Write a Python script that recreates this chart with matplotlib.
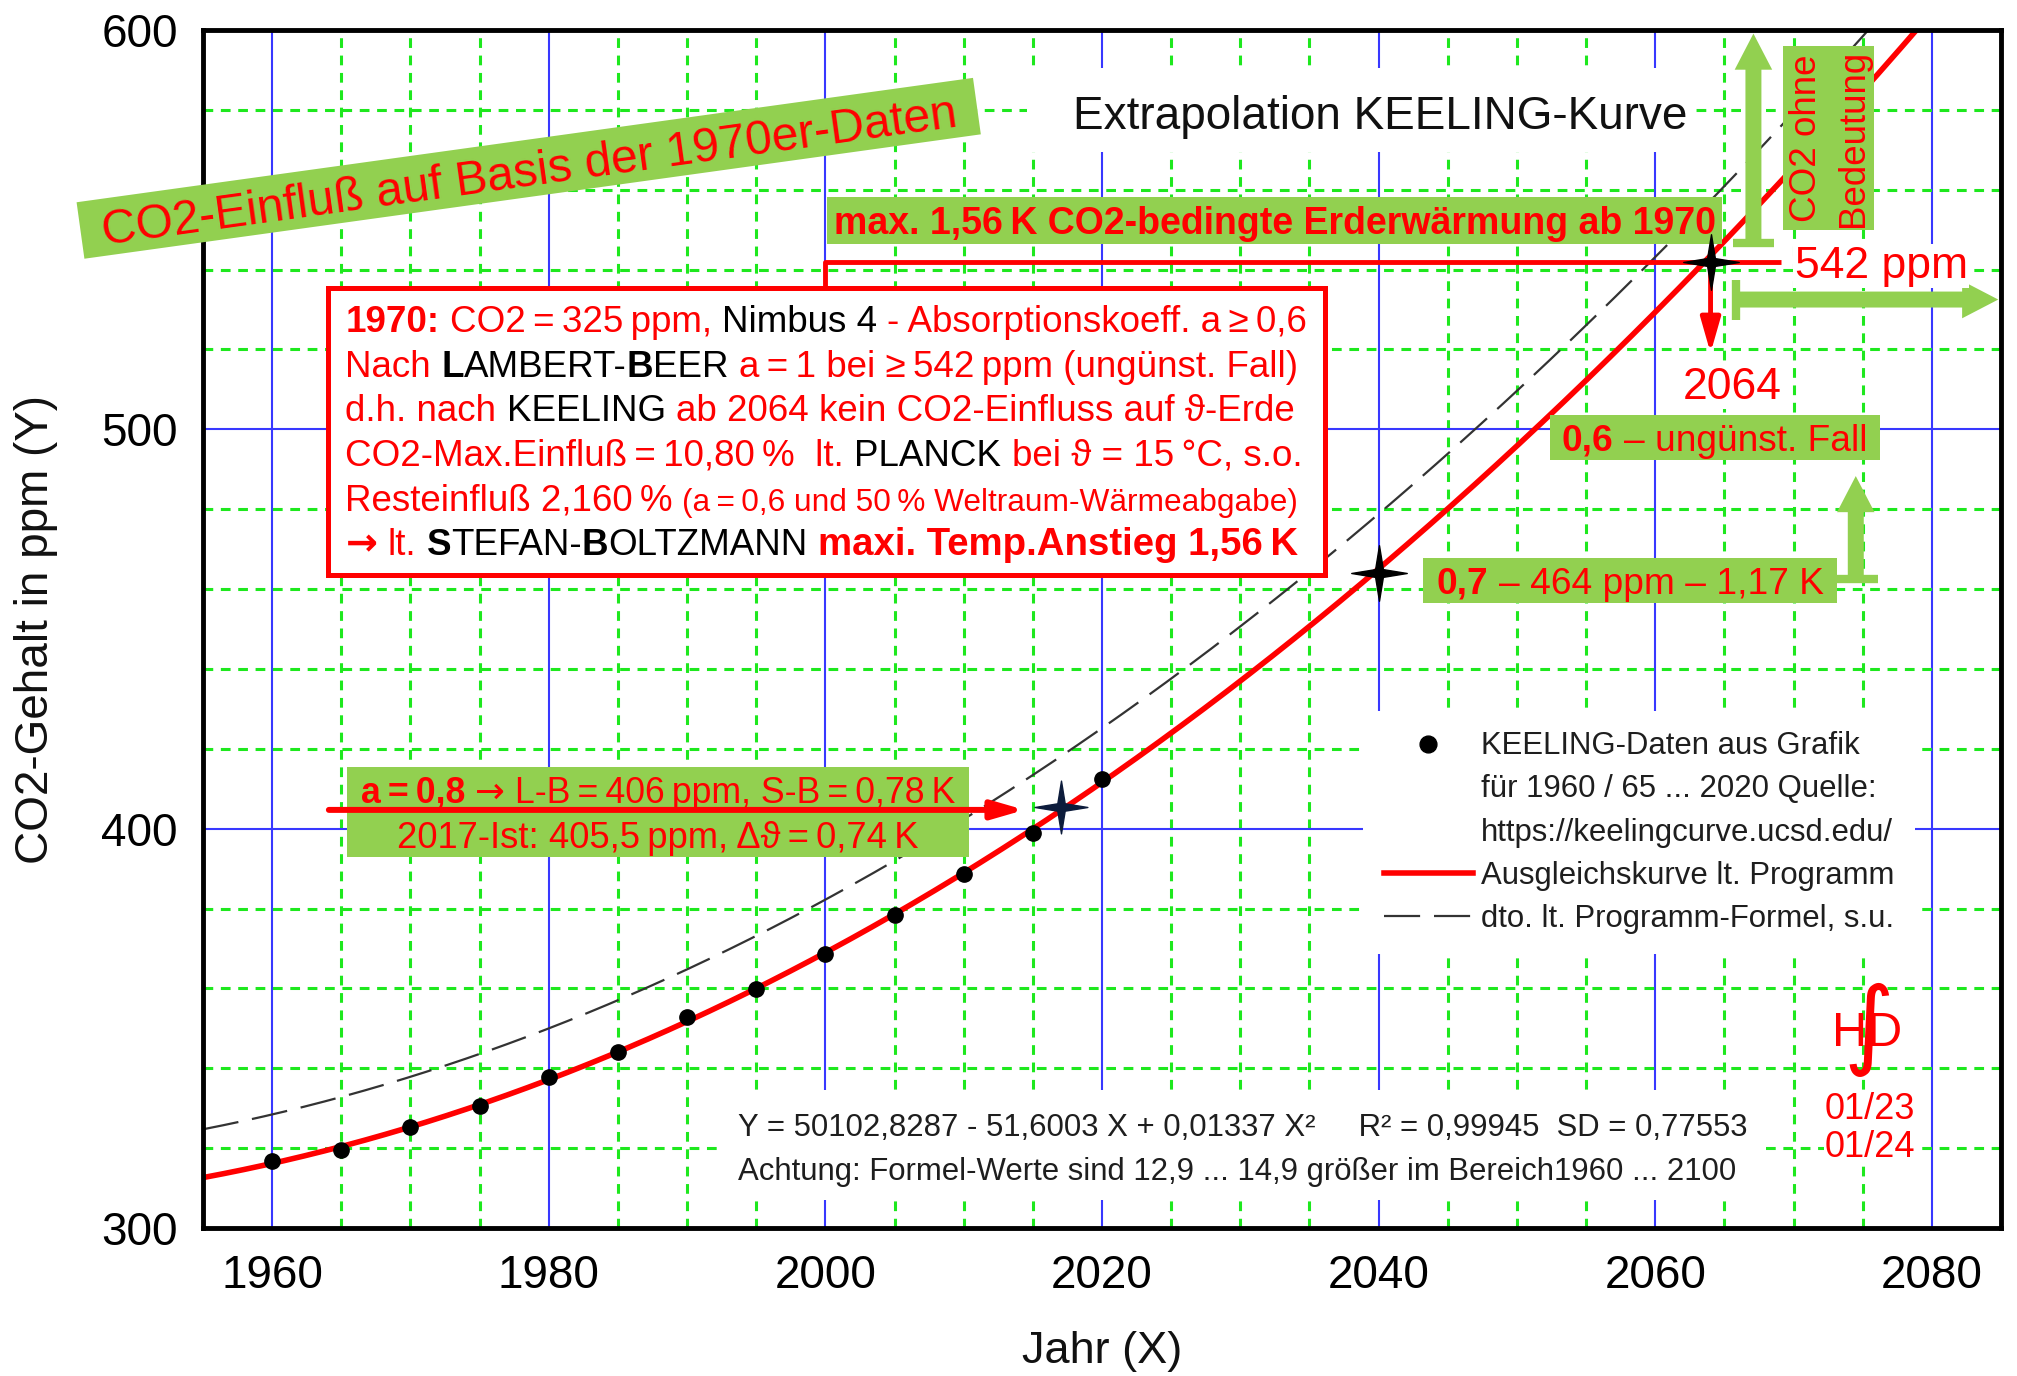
import numpy as np
import matplotlib
matplotlib.use('Agg')
import matplotlib.pyplot as plt
from matplotlib.patches import Rectangle
from matplotlib.path import Path
from matplotlib.lines import Line2D
from matplotlib.transforms import IdentityTransform
from matplotlib.ticker import MultipleLocator
from numpy.polynomial import Polynomial

FAM = ['Liberation Sans', 'DejaVu Sans']
ARROW_FAM = ['DejaVu Sans']
plt.rcParams['font.family'] = FAM
plt.rcParams['lines.scale_dashes'] = False

years = [1960, 1965, 1970, 1975, 1980, 1985, 1990, 1995, 2000, 2005, 2010, 2015, 2020]
keeling_ppm = [316.8, 319.5, 325.2, 330.5, 337.8, 344.0, 352.8, 359.8, 368.7, 378.5, 388.7, 399.0, 412.5]

# programme formula  Y = c0 + c1*X + c2*X^2
formula_coef = [50102.8287, -51.6003, 0.01337]

# marked points: 2017 actual, a = 0.7, a = 1 (unfavourable case)
star_years = [2017, 2040, 2064]
star_ppm = [405.5, 464, 542]

x_ticks = [1960, 1980, 2000, 2020, 2040, 2060, 2080]
y_ticks = [300, 400, 500, 600]

RED = '#ff0000'
GREEN = '#92d050'
BLUE = '#3838ff'
LIME = '#1ee81e'
TXT = '#1e1e1e'
NAVY = '#0d1c3c'

W, H = 2017, 1376
PX = 100 / 72.0
fig = plt.figure(figsize=(W / 100, H / 100), dpi=100, facecolor='white')
ax = fig.add_axes([203 / W, 1 - 1228 / H, 1798 / W, 1198 / H])
ax.set_xlim(1955, 2085)
ax.set_ylim(300, 600)
ax.set_xticks(x_ticks)
ax.set_xticklabels([str(v) for v in x_ticks])
ax.set_yticks(y_ticks)
ax.set_yticklabels([str(v) for v in y_ticks])
ax.xaxis.set_minor_locator(MultipleLocator(5))
ax.yaxis.set_minor_locator(MultipleLocator(20))
ax.set_axisbelow(True)
ax.grid(which='major', color=BLUE, linewidth=1.5)
ax.grid(which='minor', color=LIME, linewidth=2.2, linestyle=(0, (7, 5.5)))
ax.tick_params(which='both', length=0)
ax.tick_params(axis='x', labelsize=33, pad=18.5)
ax.tick_params(axis='y', labelsize=33, pad=18)
for sp in ax.spines.values():
    sp.set_linewidth(3.5)
    sp.set_zorder(10)

# white panels behind title and formula
ax.add_patch(Rectangle((2014.6, 569.5), 47.9, 21.0, facecolor='white', edgecolor='none', zorder=1))
ax.add_patch(Rectangle((1992.3, 307.0), 75.4, 27.6, facecolor='white', edgecolor='none', zorder=1))

# curves
xs = np.linspace(1955, 2085, 800)
fit = Polynomial.fit(years, keeling_ppm, 2)
fit_line, = ax.plot(xs, fit(xs), color=RED, lw=4, zorder=3)
formula_vals = formula_coef[0] + formula_coef[1] * xs + formula_coef[2] * xs ** 2
formula_line, = ax.plot(xs, formula_vals, color='#333333', lw=1.6,
                        linestyle=(0, (26, 10)), zorder=3)
dots, = ax.plot(years, keeling_ppm, 'o', color='black', ms=11, zorder=4)

# text box with the 1970 assumptions
ax.add_patch(Rectangle((1964.05, 463.5), 72.05, 72.0, facecolor='white',
                       edgecolor=RED, lw=3.6, zorder=3.6))
ax.plot([2000, 2000, 2069.1], [535.5, star_ppm[2], star_ppm[2]], color=RED, lw=3.5,
        zorder=3.5, solid_capstyle='butt')

# green label boxes
for (x0, y0, x1, y1) in [(2000.14, 546.4, 2064.83, 558.1),
                         (2052.39, 492.3, 2076.22, 503.7),
                         (2043.21, 456.5, 2073.14, 467.9),
                         (2069.24, 549.8, 2075.82, 596.0),
                         (1965.4, 392.9, 2010.4, 415.5)]:
    ax.add_patch(Rectangle((x0, y0), x1 - x0, y1 - y0, facecolor=GREEN,
                           edgecolor='none', zorder=4.5))


def green_arrow(x0, y0, x1, y1):
    ax.annotate('', xy=(x1, y1), xytext=(x0, y0), zorder=5,
                arrowprops=dict(arrowstyle='simple,head_length=26,head_width=27,tail_width=11.5',
                                mutation_scale=1, facecolor=GREEN, edgecolor='none',
                                lw=0, shrinkA=0, shrinkB=0))


green_arrow(2067.1, 546.7, 2067.1, 599.1)
ax.plot([2065.6, 2068.6], [546.7, 546.7], color=GREEN, lw=6, solid_capstyle='butt', zorder=5)
green_arrow(2065.84, 532.5, 2084.8, 532.5)
ax.plot([2065.84, 2065.84], [527.4, 537.4], color=GREEN, lw=6, solid_capstyle='butt', zorder=5)
green_arrow(2074.5, 462.6, 2074.5, 488.3)
ax.plot([2073.1, 2076.1], [462.6, 462.6], color=GREEN, lw=6, solid_capstyle='butt', zorder=5)

# red arrows
ax.annotate('', xy=(star_years[2], 519.1), xytext=(star_years[2], star_ppm[2]), zorder=5.5,
            arrowprops=dict(arrowstyle='-|>,head_length=21,head_width=6', mutation_scale=1,
                            color=RED, lw=3.5, shrinkA=0, shrinkB=0))
ax.annotate('', xy=(2014.4, 404.7), xytext=(1964.1, 404.7), zorder=5.5,
            arrowprops=dict(arrowstyle='-|>,head_length=19,head_width=5.5', mutation_scale=1,
                            color=RED, lw=4.3, shrinkA=0, shrinkB=0))

# four-pointed star markers
r = 0.14
star = Path([(0, 1), (r, r), (1, 0), (r, -r), (0, -1), (-r, -r), (-1, 0), (-r, r), (0, 1)],
            [Path.MOVETO] + [Path.LINETO] * 7 + [Path.CLOSEPOLY])
ax.plot(star_years[1:], star_ppm[1:], linestyle='none', marker=star, ms=40,
        color='black', zorder=7)
ax.plot(star_years[:1], star_ppm[:1], linestyle='none', marker=star, ms=38,
        color=NAVY, zorder=7)

# legend
blank = Line2D([], [], linestyle='none')
leg = ax.legend([dots, blank, blank, fit_line, formula_line],
                ['KEELING-Daten aus Grafik', 'für 1960 / 65 ... 2020 Quelle:',
                 'https://keelingcurve.ucsd.edu/', 'Ausgleichskurve lt. Programm',
                 'dto. lt. Programm-Formel, s.u.'],
                loc='upper left', bbox_to_anchor=(2038.9, 429.5), bbox_transform=ax.transData,
                borderaxespad=0, frameon=True, fancybox=False, framealpha=1,
                facecolor='white', edgecolor='none', prop={'family': FAM, 'size': 22.4},
                labelcolor=TXT, handlelength=2.86, handletextpad=0.25, borderpad=0.66,
                labelspacing=0.42, markerscale=1.1)
leg.set_zorder(5)

# plain texts
ax.text(2040.1, 579.5, 'Extrapolation KEELING-Kurve', ha='center', va='center_baseline',
        fontsize=33, color='#111111', zorder=6)
ax.text(2070.07, star_ppm[2], '542 ppm', ha='left', va='center_baseline', fontsize=32,
        color=RED, zorder=6, bbox=dict(facecolor='white', edgecolor='none', pad=1))
ax.text(2065.6, 511.6, '2064', ha='center', va='center_baseline', fontsize=32,
        color=RED, zorder=6, bbox=dict(facecolor='white', edgecolor='none', pad=1))
ax.text(2070.97, 572.9, 'CO2 ohne', rotation=90, ha='center', va='center', fontsize=26.5,
        color=RED, zorder=6)
ax.text(2074.37, 572.9, 'Bedeutung', rotation=90, ha='center', va='center', fontsize=26.5,
        color=RED, zorder=6)
ax.text(1993.67, 325.8, 'Y = 50102,8287 - 51,6003 X + 0,01337 X²     R² = 0,99945  SD = 0,77553',
        ha='left', va='center_baseline', fontsize=22.4, color=TXT, zorder=6)
ax.text(1993.67, 315.0, 'Achtung: Formel-Werte sind 12,9 ... 14,9 größer im Bereich1960 ... 2100',
        ha='left', va='center_baseline', fontsize=22.4, color=TXT, zorder=6)
for yv, s in [(330.8, '01/23'), (321.2, '01/24')]:
    ax.text(2075.5, yv, s, ha='center', va='center_baseline', fontsize=26, color=RED, zorder=6,
            bbox=dict(facecolor='white', edgecolor='none', pad=0.5))

fig.text(36 / W, 1 - 629 / H, 'CO2-Gehalt in ppm (Y)', rotation=90, ha='center', va='center',
         fontsize=33, color='#111111')
fig.text(1102 / W, 1 - 1352 / H, 'Jahr (X)', ha='center', va='center', fontsize=32.5,
         color='#111111')

# mixed-style text lines
renderer = fig.canvas.get_renderer()


def advance(s, size, weight, family):
    t = fig.text(0, 0, '|' + s + '|', fontsize=size, fontweight=weight, family=family)
    w1 = t.get_window_extent(renderer).width
    t.set_text('||')
    w2 = t.get_window_extent(renderer).width
    t.remove()
    return w1 - w2


def rich(x, y, segs, size, ha='left', zorder=6):
    parts = []
    for seg in segs:
        s, color, weight = seg[0], seg[1], seg[2]
        sz = seg[3] if len(seg) > 3 and seg[3] else size
        fam = seg[4] if len(seg) > 4 else FAM
        parts.append((s, color, weight, sz, fam, advance(s, sz, weight, fam)))
    total = sum(p[5] for p in parts)
    cur = x - total / 2 if ha == 'center' else x
    for s, color, weight, sz, fam, w in parts:
        body = s.lstrip(' ')
        lead = s[:len(s) - len(body)]
        body = body.rstrip(' ')
        if body:
            off = advance(lead, sz, weight, fam) if lead else 0.0
            fig.text(cur + off, y, body, fontsize=sz, fontweight=weight, color=color,
                     family=fam, ha='left', va='baseline', transform=IdentityTransform(),
                     zorder=zorder)
        cur += w


def centred(xd, yd, segs, size):
    px, py = ax.transData.transform((xd, yd))
    rich(px, py - 0.358 * size * PX, segs, size, ha='center')


T = '\u2009'
N, B = 'normal', 'bold'
BS = 26.5
box_lines = [
    [('1970:', RED, B), (' CO2' + T + '=' + T + '325' + T + 'ppm,', RED, N), (' Nimbus 4', 'black', N),
     (' - Absorptionskoeff. a' + T + '≥' + T + '0,6', RED, N)],
    [('Nach ', RED, N), ('L', 'black', B), ('AMBERT-', 'black', N), ('B', 'black', B),
     ('EER', 'black', N), (' a' + T + '=' + T + '1 bei ≥' + T + '542' + T + 'ppm (ungünst. Fall)', RED, N)],
    [('d.h. nach ', RED, N), ('KEELING', 'black', N), (' ab 2064 kein CO2-Einfluss auf ϑ-Erde', RED, N)],
    [('CO2-Max.Einfluß' + T + '=' + T + '10,80' + T + '%  lt.', RED, N), (' PLANCK', 'black', N),
     (' bei ϑ = 15' + T + '°C, s.o.', RED, N)],
    [('Resteinfluß 2,160' + T + '%', RED, N),
     (' (a' + T + '=' + T + '0,6 und 50' + T + '% Weltraum-Wärmeabgabe)', RED, N, 22.8)],
    [('→', RED, B, 27.5, ARROW_FAM), (' lt. ', RED, N), ('S', 'black', B), ('TEFAN-', 'black', N),
     ('B', 'black', B), ('OLTZMANN', 'black', N), (' maxi. Temp.Anstieg 1,56' + T + 'K', RED, B, 27.6)],
]
bx, by = ax.transData.transform((1965.3, 524.4))
for i, segs in enumerate(box_lines):
    rich(bx, by - i * 44.7, segs, BS)

centred(2032.5, 552.25, [('max. 1,56' + T + 'K CO2-bedingte Erderwärmung ab 1970', RED, B)], 27)
centred(2064.3, 498.0, [('0,6', RED, B), (' – ungünst. Fall', RED, N)], 26.7)
centred(2058.2, 462.2, [('0,7', RED, B), (' – 464 ppm – 1,17 K', RED, N)], 26.7)
centred(1987.9, 409.7, [('a' + T + '=' + T + '0,8', RED, B), (' ', RED, N), ('→', RED, N, None, ARROW_FAM),
                        (' L-B' + T + '=' + T + '406' + T + 'ppm, S-B' + T + '=' + T + '0,78' + T + 'K', RED, N)], 25.7)
centred(1987.9, 398.4, [('2017-Ist: 405,5' + T + 'ppm, Δϑ' + T + '=' + T + '0,74' + T + 'K', RED, N)], 26.2)

# rotated banner
cx, cy = 528.7, H - 168.3
fig.add_artist(Rectangle((cx - 452.5, cy - 28.5), 905, 57, angle=7.9, rotation_point='center',
                         facecolor=GREEN, edgecolor='none', transform=IdentityTransform(), zorder=2))
fig.text(cx, cy, 'CO2-Einfluß auf Basis der 1970er-Daten', rotation=7.9, rotation_mode='anchor',
         ha='center', va='center_baseline', fontsize=34.5, color=RED,
         transform=IdentityTransform(), zorder=3)

# signature
hx, hy = ax.transData.transform((2075.3, 350))
fig.text(hx, hy - 18, 'HD', ha='center', va='baseline', fontsize=35, color=RED,
         transform=IdentityTransform(), zorder=6)
fig.text(hx + 2, hy - 2, '∫', ha='center', va='center', fontsize=70, color=RED,
         family=['DejaVu Sans'], transform=IdentityTransform(), zorder=6)

fig.savefig('out.png', dpi=100, facecolor='white')
